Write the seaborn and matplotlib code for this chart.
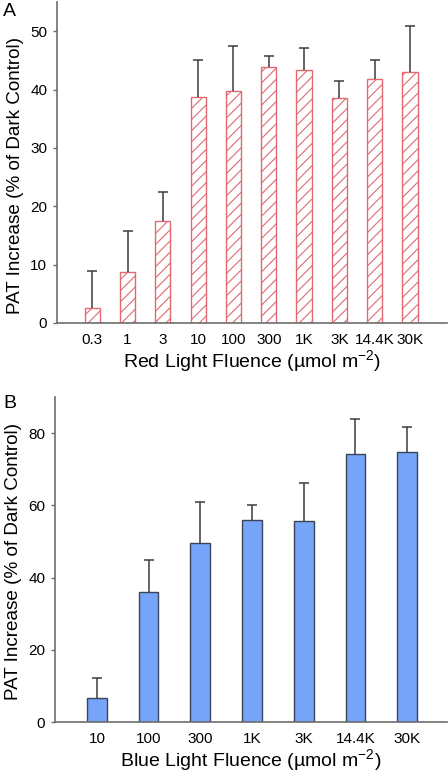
import matplotlib
matplotlib.use("Agg")
import matplotlib.pyplot as plt
import seaborn as sns
import pandas as pd

# panel A - red light
red_labels = ["0.3", "1", "3", "10", "100", "300", "1K", "3K", "14.4K", "30K"]
red_mean = [2.5, 8.8, 17.5, 38.8, 39.8, 43.9, 43.3, 38.5, 41.8, 43.0]
red_top = [8.9, 15.7, 22.5, 45.1, 47.4, 45.8, 47.1, 41.5, 45.1, 50.9]

# panel B - blue light
blue_labels = ["10", "100", "300", "1K", "3K", "14.4K", "30K"]
blue_mean = [6.7, 36.0, 49.7, 55.9, 55.7, 74.3, 74.9]
blue_top = [12.2, 44.8, 60.8, 60.2, 66.2, 83.8, 81.7]

sns.set_style("white")
plt.rcParams["font.family"] = ["Liberation Sans", "DejaVu Sans"]
plt.rcParams["mathtext.fontset"] = "custom"
plt.rcParams["mathtext.rm"] = "Liberation Sans"
plt.rcParams["hatch.color"] = "#cc3a44"
plt.rcParams["hatch.linewidth"] = 0.8
plt.rcParams["text.color"] = "black"
plt.rcParams["axes.labelcolor"] = "black"
plt.rcParams["xtick.color"] = "black"
plt.rcParams["ytick.color"] = "black"

spine_col = "#6e6e6e"
err_col = "#3c3c3c"


def style_axis(ax, ylabel, xlabel, yticks, ylim, xlim, ylab_y):
    ax.set_ylim(*ylim)
    ax.set_xlim(*xlim)
    ax.set_yticks(yticks)
    ax.set_ylabel(ylabel, fontsize=13.6)
    ax.yaxis.set_label_coords(-0.085, ylab_y)
    ax.set_xlabel(xlabel, fontsize=14, labelpad=1)
    for s in ["top", "right"]:
        ax.spines[s].set_visible(False)
    for s in ["left", "bottom"]:
        ax.spines[s].set_color(spine_col)
        ax.spines[s].set_linewidth(1.2)
    ax.tick_params(axis="y", length=3, width=1, color=spine_col, labelsize=11, pad=4, left=True)
    ax.tick_params(axis="x", length=0, labelsize=11, pad=7)


def up_errors(ax, means, tops):
    err = [t - m for t, m in zip(tops, means)]
    eb = ax.errorbar(range(len(means)), means, yerr=[[0] * len(err), err],
                     fmt="none", ecolor=err_col, elinewidth=1.1, capsize=3.3,
                     capthick=1.1, zorder=1)
    eb[1][0].set_visible(False)  # hide the lower cap sitting on the bar top


fig = plt.figure(figsize=(4.48, 7.73), dpi=100)
axA = fig.add_axes([57 / 448, 1 - 323 / 773, 390 / 448, 321 / 773])
axB = fig.add_axes([55 / 448, 1 - 722 / 773, 392 / 448, 325 / 773])

dfA = pd.DataFrame({"fluence": red_labels, "pct": red_mean})
sns.barplot(data=dfA, x="fluence", y="pct", order=red_labels, ax=axA,
            width=0.43, color="white", edgecolor="#e06a70", linewidth=1.0,
            errorbar=None)
for p in axA.patches:
    p.set_hatch("///")
    p.set_facecolor("white")
up_errors(axA, red_mean, red_top)
style_axis(axA, "PAT Increase (% of Dark Control)",
           "Red Light Fluence (µmol m$^{-2}$)", [0, 10, 20, 30, 40, 50],
           (0, 55), (-1.0, 10.05), 0.461)

dfB = pd.DataFrame({"fluence": blue_labels, "pct": blue_mean})
sns.barplot(data=dfB, x="fluence", y="pct", order=blue_labels, ax=axB,
            width=0.38, color="#76a4f8", saturation=1, edgecolor="#3a4656",
            linewidth=1.0, errorbar=None)
up_errors(axB, blue_mean, blue_top)
style_axis(axB, "PAT Increase (% of Dark Control)",
           "Blue Light Fluence (µmol m$^{-2}$)", [0, 20, 40, 60, 80],
           (0, 90), (-0.81, 6.77), 0.495)

fig.text(3 / 448, 1 - 3 / 773, "A", fontsize=14, va="top", ha="left")
fig.text(3 / 448, 1 - 395 / 773, "B", fontsize=14, va="top", ha="left")

fig.savefig("out.png", dpi=100)
